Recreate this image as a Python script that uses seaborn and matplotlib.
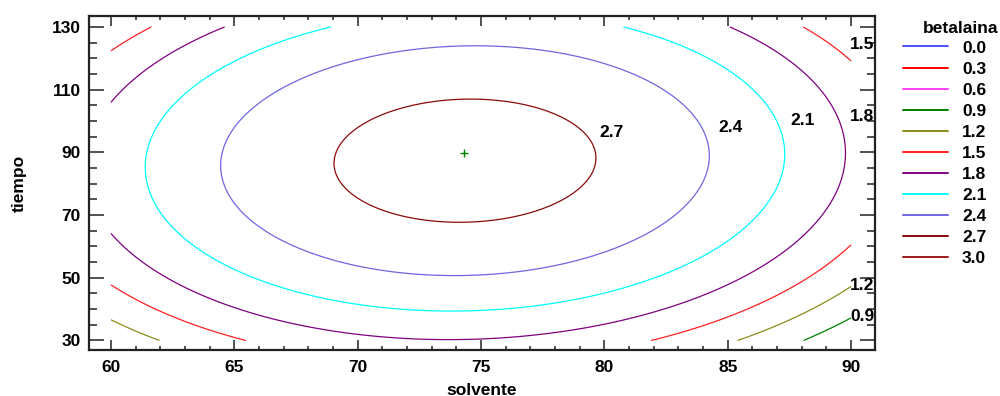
import numpy as np
import matplotlib
matplotlib.use("Agg")
import matplotlib.pyplot as plt
import seaborn as sns
from matplotlib.lines import Line2D
from matplotlib.ticker import MultipleLocator

# ---------------------------------------------------------------------------
# Data: fitted response surface for betalaina
# ---------------------------------------------------------------------------
solvente_range = [60, 90]
tiempo_range = [30, 130]

# canonical form of the quadratic model
betalaina_max = 2.821
solvente_opt = 74.35
tiempo_opt = 87.35
curv_solvente = 0.0043
curv_tiempo = 0.000314
interaction = 0.0001

# optimum marker shown on the chart
marker_solvente = [74.3]
marker_tiempo = [89.9]

levels = [0.0, 0.3, 0.6, 0.9, 1.2, 1.5, 1.8, 2.1, 2.4, 2.7, 3.0]
level_colors = ['#4f4fff', '#ff0000', '#ff40ff', '#008000', '#8c8c1e',
                '#ff2020', '#800080', '#00ffff', '#6f66e0', '#8b0a0a', '#a01818']

label_levels = [2.7, 2.4, 2.1, 1.8, 1.5, 1.2, 0.9]
label_solvente = [80.3, 85.1, 88.05, 90.45, 90.45, 90.45, 90.45]
label_tiempo = [96.2, 97.8, 100.1, 101.6, 124.3, 47.5, 37.6]

x_ticks = [60, 65, 70, 75, 80, 85, 90]
y_ticks = [30, 50, 70, 90, 110, 130]

# ---------------------------------------------------------------------------
# Surface grid
# ---------------------------------------------------------------------------
sx = np.linspace(solvente_range[0], solvente_range[1], 121)
ty = np.linspace(tiempo_range[0], tiempo_range[1], 201)
S, T = np.meshgrid(sx, ty)
dS = S - solvente_opt
dT = T - tiempo_opt
Z = betalaina_max - curv_solvente * dS**2 - curv_tiempo * dT**2 + interaction * dS * dT

# ---------------------------------------------------------------------------
# Plot
# ---------------------------------------------------------------------------
sns.set_style("ticks")
plt.rcParams['font.family'] = ['Liberation Sans', 'DejaVu Sans']
plt.rcParams['text.color'] = 'black'
plt.rcParams['axes.labelcolor'] = 'black'
plt.rcParams['xtick.labelcolor'] = 'black'
plt.rcParams['ytick.labelcolor'] = 'black'

FS = 12.5

fig = plt.figure(figsize=(10, 3.96), dpi=100)
ax = fig.add_axes([0.089, 0.1162, 0.786, 0.8434])

ax.contour(S, T, Z, levels=levels, colors=level_colors, linewidths=0.9, zorder=1)

sns.scatterplot(x=marker_solvente, y=marker_tiempo, marker='+', color='#008000',
                s=30, linewidth=1, ax=ax, legend=False, zorder=3)

for lv, lx, ly in zip(label_levels, label_solvente, label_tiempo):
    ax.text(lx, ly, f'{lv:.1f}', ha='center', va='center', fontsize=FS,
            fontweight='bold', clip_on=False, zorder=2)

ax.set_xlim(59.11, 90.97)
ax.set_ylim(26.97, 133.5)
ax.set_xticks(x_ticks)
ax.set_yticks(y_ticks)
ax.xaxis.set_minor_locator(MultipleLocator(1))
ax.yaxis.set_minor_locator(MultipleLocator(5))

for side in ['top', 'right', 'bottom', 'left']:
    ax.spines[side].set_visible(True)
    ax.spines[side].set_color('#222222')
    ax.spines[side].set_linewidth(1.6)

ax.tick_params(which='both', direction='in', top=True, right=True,
               color='#222222', width=1.1, labelsize=FS)
ax.tick_params(axis='x', which='major', length=7, pad=7)
ax.tick_params(axis='x', which='minor', length=3)
ax.tick_params(axis='y', which='major', length=10.5, pad=6)
ax.tick_params(axis='y', which='minor', length=5.8)
for lab in ax.get_xticklabels() + ax.get_yticklabels():
    lab.set_fontweight('bold')

ax.set_xlabel('solvente', fontsize=FS, fontweight='bold', labelpad=6)
ax.set_ylabel('tiempo', fontsize=FS, fontweight='bold', labelpad=18)

# legend title placed on its own, the entries below it
fig.text(0.961, 0.929, 'betalaina', ha='center', va='center',
         fontsize=FS, fontweight='bold')
handles = [Line2D([0], [0], color=c, lw=1.4) for c in level_colors]
labels = [f'{lv:.1f}' for lv in levels]
fig.legend(handles, labels, loc='upper left',
           bbox_to_anchor=(0.903, 0.898), frameon=False,
           prop={'weight': 'bold', 'size': FS},
           handlelength=2.6, handletextpad=0.8, labelspacing=0.34,
           borderpad=0, borderaxespad=0)

plt.savefig('out.png', dpi=100, facecolor='white')
